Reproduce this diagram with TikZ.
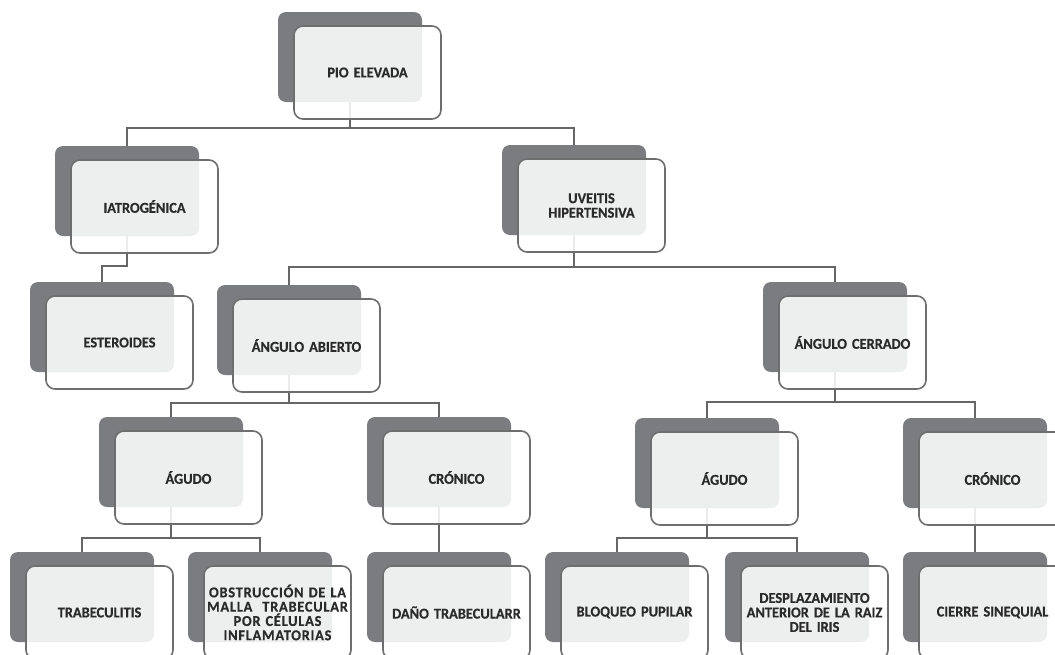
\documentclass[tikz,border=0pt]{standalone}
\usepackage{fontspec}
\setmainfont{Carlito}[FakeStretch=0.96,BoldFeatures={FakeBold=0.5}]
\usetikzlibrary{backgrounds}
\definecolor{backc}{HTML}{7B7C80}
\definecolor{edgec}{HTML}{6E6E6E}
\definecolor{connc}{HTML}{666666}
\definecolor{textc}{HTML}{2A2A2A}
\tikzset{
  backbox/.style={draw=none, fill=backc, rounded corners=8pt, minimum width=144pt, minimum height=90pt, inner sep=0pt, outer sep=0pt, anchor=north west},
  frontbox/.style={draw=edgec, line width=1.6pt, fill=white, fill opacity=0.87, text opacity=1, rounded corners=9pt, minimum width=147pt, minimum height=93pt, inner sep=2pt, outer sep=0pt, anchor=north west, align=center, text width=143pt, text=textc, font=\bfseries\fontsize{15}{14.5}\selectfont},
  widetext/.style={font=\bfseries\fontsize{15}{14.3}\selectfont\addfontfeature{LetterSpace=5}},
  conn/.style={draw=connc, line width=2pt}
}
\newcommand\entrybox[5][]{%
  \node[backbox] (#2-b) at (#3,#4) {};
  \node[frontbox,#1] (#2) at (#3+16,#4+14) {#5};
}
\begin{document}
\begin{tikzpicture}[x=1pt,y=-1pt]
\useasboundingbox (0,0) rectangle (1055,654);
\clip (0,0) rectangle (1055,654);
\entrybox{pio}{278}{12}{PIO ELEVADA}
\entrybox{iat}{55}{146}{IATROGÉNICA}
\entrybox{uve}{502}{145}{UVEITIS\\HIPERTENSIVA}
\entrybox{est}{30}{282}{ESTEROIDES}
\entrybox{aab}{217}{285}{ÁNGULO ABIERTO}
\entrybox{ace}{763}{282}{ÁNGULO CERRADO}
\entrybox{ag1}{99}{417}{ÁGUDO}
\entrybox{cr1}{367}{417}{CRÓNICO}
\entrybox{ag2}{635}{418}{ÁGUDO}
\entrybox{cr2}{903}{418}{CRÓNICO}
\entrybox{tra}{10}{552}{TRABECULITIS}
\entrybox[widetext]{obs}{188}{552}{OBSTRUCCIÓN DE LA\\MALLA\ \ TRABECULAR\\POR CÉLULAS\\INFLAMATORIAS}
\entrybox{dan}{367}{552}{DAÑO TRABECULARR}
\entrybox{blo}{545}{552}{BLOQUEO PUPILAR}
\entrybox{des}{725}{552}{DESPLAZAMIENTO\\ANTERIOR DE LA RAIZ\\DEL IRIS}
\entrybox{cie}{903}{552}{CIERRE SINEQUIAL}
\begin{pgfonlayer}{background}
\fill[white] (0,0) rectangle (1055,654);
\draw[conn] (pio-b.south) -- (pio-b.south |- 0,128) -| (iat-b.north);
\draw[conn] (pio-b.south |- 0,128) -| (uve-b.north);
\draw[conn] (iat-b.south) -- (iat-b.south |- 0,266) -| (est-b.north);
\draw[conn] (uve-b.south) -- (uve-b.south |- 0,267) -| (aab-b.north);
\draw[conn] (uve-b.south |- 0,267) -| (ace-b.north);
\draw[conn] (aab-b.south) -- (aab-b.south |- 0,403) -| (ag1-b.north);
\draw[conn] (aab-b.south |- 0,403) -| (cr1-b.north);
\draw[conn] (ace-b.south) -- (ace-b.south |- 0,402) -| (ag2-b.north);
\draw[conn] (ace-b.south |- 0,402) -| (cr2-b.north);
\draw[conn] (ag1-b.south) -- (ag1-b.south |- 0,538) -| (tra-b.north);
\draw[conn] (ag1-b.south |- 0,538) -| (obs-b.north);
\draw[conn] (cr1-b.south) -- (dan-b.north);
\draw[conn] (ag2-b.south) -- (ag2-b.south |- 0,538) -| (blo-b.north);
\draw[conn] (ag2-b.south |- 0,538) -| (des-b.north);
\draw[conn] (cr2-b.south) -- (cie-b.north);
\end{pgfonlayer}
\end{tikzpicture}
\end{document}
